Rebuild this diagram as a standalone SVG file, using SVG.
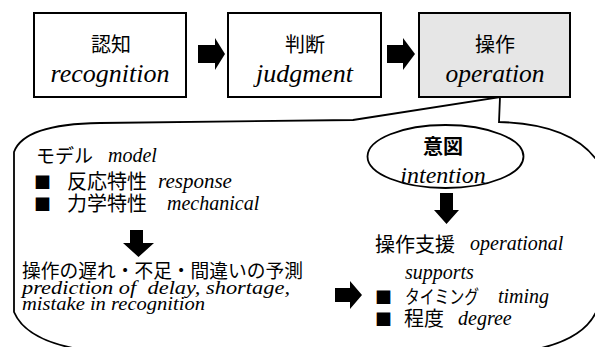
<svg xmlns="http://www.w3.org/2000/svg" width="595" height="347" viewBox="0 0 595 347">
<style>
.box{fill:#fff;stroke:#000;stroke-width:2}
.op{fill:#e6e6e6}
.jp{font-family:"Noto Sans CJK JP","Noto Sans",sans-serif;font-style:normal;fill:#000}
.en{font-family:"Liberation Serif","DejaVu Serif",serif;font-style:italic;fill:#000}
.arr{fill:#000;stroke:none}
.line{fill:#fff;stroke:#000;stroke-width:1.8}
</style>
<rect width="595" height="347" fill="#fff"/>
<g id="callout">
<path class="line" d="M353,120 L500,97 L499,122 Q575,124 600,165 L600,300 Q592,342 520,352 L100,352 Q28,345 14,312 L14,152 Q24,124 100,123 Z"/>
</g>
<g id="node-recognition">
<rect class="box" x="34" y="13" width="152" height="84"/>
<text class="jp" x="111" y="52" font-size="20" text-anchor="middle">認知</text>
<text class="en" x="110" y="82" font-size="26" text-anchor="middle">recognition</text>
</g>
<g id="node-judgment">
<rect class="box" x="228" y="13" width="153" height="84"/>
<text class="jp" x="305" y="52" font-size="20" text-anchor="middle">判断</text>
<text class="en" x="304.5" y="82" font-size="26" text-anchor="middle">judgment</text>
</g>
<g id="node-operation">
<rect class="box op" x="419" y="13" width="151" height="84"/>
<text class="jp" x="495" y="52" font-size="20" text-anchor="middle">操作</text>
<text class="en" x="495" y="82" font-size="25.5" text-anchor="middle">operation</text>
</g>
<g id="node-intention">
<ellipse class="line" cx="445.5" cy="156.5" rx="78" ry="31.5"/>
<text class="jp" x="443" y="154" font-size="20" font-weight="bold" text-anchor="middle">意図</text>
<text class="en" x="443" y="183" font-size="24" text-anchor="middle">intention</text>
</g>
<g id="node-model">
<text class="jp" x="36" y="163" font-size="19">モデル</text>
<text class="en" x="108" y="162" font-size="20">model</text>
<text class="jp" x="34" y="189" font-size="17">■</text>
<text class="jp" x="67" y="189" font-size="20">反応特性</text>
<text class="en" x="158" y="188" font-size="21">response</text>
<text class="jp" x="34" y="211" font-size="17">■</text>
<text class="jp" x="67" y="211" font-size="20">力学特性</text>
<text class="en" x="167" y="210" font-size="20">mechanical</text>
</g>
<g id="node-prediction">
<text class="jp" x="22" y="278" font-size="19" textLength="281" lengthAdjust="spacingAndGlyphs">操作の遅れ・不足・間違いの予測</text>
<text class="en" x="22" y="294" font-size="19" textLength="268" lengthAdjust="spacingAndGlyphs" xml:space="preserve">prediction of  delay, shortage,</text>
<text class="en" x="22" y="310" font-size="19" textLength="183" lengthAdjust="spacingAndGlyphs">mistake in recognition</text>
</g>
<g id="node-support">
<text class="jp" x="375" y="252" font-size="20">操作支援</text>
<text class="en" x="470" y="250" font-size="20">operational</text>
<text class="en" x="405" y="279" font-size="20">supports</text>
<text class="jp" x="375" y="304" font-size="17">■</text>
<text class="jp" x="405" y="304" font-size="19" textLength="74" lengthAdjust="spacingAndGlyphs">タイミング</text>
<text class="en" x="498" y="303" font-size="20">timing</text>
<text class="jp" x="375" y="326" font-size="17">■</text>
<text class="jp" x="404" y="326" font-size="20">程度</text>
<text class="en" x="458" y="325" font-size="20">degree</text>
</g>
<g id="connectors">
<polygon class="arr" points="198,45 215,45 215,38 225,54 215,70 215,63 198,63"/>
<polygon class="arr" points="387,45 403,45 403,38 415,54 403,70 403,63 387,63"/>
<polygon class="arr" points="440,193 453,193 453,210 459,210 446.5,224 434,210 440,210"/>
<polygon class="arr" points="130,230 143,230 143,243 154,243 138.5,257 123,243 130,243"/>
<polygon class="arr" points="335,288 350,288 350,281 362,295 350,309 350,302 335,302"/>
</g>
</svg>
